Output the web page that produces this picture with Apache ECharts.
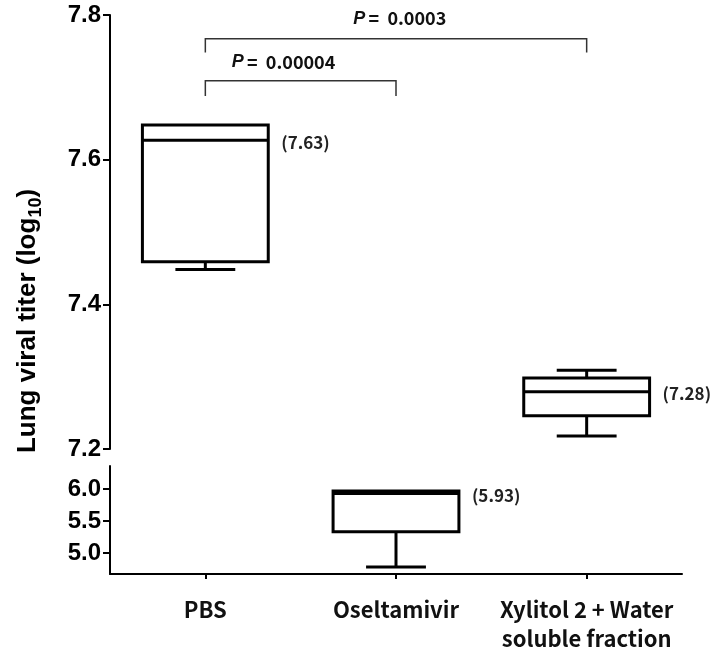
<!DOCTYPE html>
<html>
<head>
<meta charset="utf-8">
<script src="https://cdn.jsdelivr.net/npm/echarts@6/dist/echarts.min.js"></script>
<style>html,body{margin:0;padding:0;background:#fff;}#c{width:716px;height:659px;}</style>
</head>
<body>
<div id="c"></div>
<script>
// ---- data ----
const categories = ['PBS', 'Oseltamivir', 'Xylitol 2 + Water\nsoluble fraction'];
// [categoryIndex, lowerWhisker, Q1, median, Q3, upperWhisker]
const upperBoxes = [
  [0, 7.448, 7.459, 7.627, 7.648, 7.648],
  [2, 7.218, 7.246, 7.279, 7.298, 7.309]
];
const lowerBoxes = [
  [1, 4.78, 5.33, 5.93, 5.97, 5.97]
];
const medianLabels = ['(7.63)', '(5.93)', '(7.28)'];
const upperTicks = [7.2, 7.4, 7.6, 7.8];
const lowerTicks = [5.0, 5.5, 6.0];
// brackets: [fromCategory, toCategory, level, legBottom, labelCenterX, labelY]
const brackets = [
  [0, 1, 7.709, 7.688, 0.41, 7.735],
  [0, 2, 7.767, 7.748, 1.02, 7.795]
];
const pValues = ['0.00004', '0.0003'];

// ---- rendering ----
const chart = echarts.init(document.getElementById('c'));

function renderBox(params, api) {
  const idx = api.value(0);
  const lw = api.value(1), q1 = api.value(2), med = api.value(3), q3 = api.value(4), uw = api.value(5);
  const band = api.size([1, 0])[0];
  const x = api.coord([idx, med])[0];
  const y = v => api.coord([idx, v])[1];
  const bw = band * 0.66, cw = band * 0.314;
  const L = { stroke: '#000', lineWidth: 3 };
  const children = [];
  if (uw > q3) {
    children.push({ type: 'line', shape: { x1: x, y1: y(q3), x2: x, y2: y(uw) }, style: L });
    children.push({ type: 'line', shape: { x1: x - cw / 2, y1: y(uw), x2: x + cw / 2, y2: y(uw) }, style: L });
  }
  children.push({ type: 'line', shape: { x1: x, y1: y(q1), x2: x, y2: y(lw) }, style: L });
  children.push({ type: 'line', shape: { x1: x - cw / 2, y1: y(lw), x2: x + cw / 2, y2: y(lw) }, style: L });
  children.push({ type: 'rect', shape: { x: x - bw / 2, y: y(q3), width: bw, height: y(q1) - y(q3) },
    style: { fill: '#fff', stroke: '#000', lineWidth: 3 } });
  children.push({ type: 'line', shape: { x1: x - bw / 2, y1: y(med), x2: x + bw / 2, y2: y(med) }, style: L });
  children.push({ type: 'text', x: x + bw / 2 + 13, y: y(med) + 2,
    style: { text: medianLabels[idx], fill: '#222', font: 'bold 17px "Noto Sans CJK KR", sans-serif',
      align: 'left', verticalAlign: 'middle' } });
  return { type: 'group', children };
}

function renderBracket(params, api) {
  const a = api.value(0), b = api.value(1), lev = api.value(2), leg = api.value(3), tx = api.value(4), ty = api.value(5);
  const p1 = api.coord([a, leg]), p2 = api.coord([a, lev]), p3 = api.coord([b, lev]), p4 = api.coord([b, leg]);
  const t = api.coord([tx, ty]);
  const band = api.size([1, 0])[0];
  const tX = api.coord([0, ty])[0] + tx * band;
  return { type: 'group', children: [
    { type: 'polyline', shape: { points: [p1, p2, p3, p4] }, style: { stroke: '#333', lineWidth: 1.5, fill: null } },
    { type: 'text', x: tX, y: t[1],
      style: { text: '{i|P} {n|=  ' + pValues[params.dataIndex] + '}', align: 'center', verticalAlign: 'middle',
        rich: {
          i: { fontStyle: 'italic', fontWeight: 'bold', fontSize: 18, fontFamily: 'Liberation Sans, Arial, sans-serif', fill: '#111' },
          n: { fontWeight: 'bold', fontSize: 18, fontFamily: '"Noto Sans CJK KR", sans-serif', fill: '#111' }
        } } }
  ] };
}

const tickLabelStyle = { color: '#000', fontWeight: 'bold', fontSize: 24, fontFamily: 'Liberation Sans, Arial, sans-serif', margin: 9 };

const option = {
  animation: false,
  backgroundColor: '#fff',
  grid: [
    { left: 110, right: 34, top: 15, height: 434, outerBoundsMode: 'none', containLabel: false },
    { left: 110, right: 34, top: 466, height: 108, outerBoundsMode: 'none', containLabel: false }
  ],
  xAxis: [
    { type: 'category', gridIndex: 0, data: categories, boundaryGap: true, show: false },
    { type: 'category', gridIndex: 1, data: categories, boundaryGap: true,
      axisLine: { show: true, lineStyle: { color: '#000', width: 2 } },
      axisTick: { show: true, alignWithLabel: true, length: 5, lineStyle: { color: '#000', width: 2 } },
      axisLabel: { show: true, interval: 0, color: '#111', fontWeight: 'bold', fontSize: 22, lineHeight: 29,
        fontFamily: '"Noto Sans CJK KR", sans-serif', margin: 21 },
      splitLine: { show: false } }
  ],
  yAxis: [
    { type: 'value', gridIndex: 0, min: 7.2, max: 7.8, interval: 0.2,
      axisLine: { show: true, lineStyle: { color: '#000', width: 2 } },
      axisTick: { show: true, length: 7, lineStyle: { color: '#000', width: 2 } },
      axisLabel: Object.assign({ formatter: v => v.toFixed(1) }, tickLabelStyle),
      splitLine: { show: false } },
    { type: 'value', gridIndex: 1, min: 4.67, max: 6.36,
      axisLine: { show: true, lineStyle: { color: '#000', width: 2 } },
      axisTick: { show: true, length: 7, customValues: lowerTicks, lineStyle: { color: '#000', width: 2 } },
      axisLabel: Object.assign({ formatter: v => v.toFixed(1), customValues: lowerTicks }, tickLabelStyle),
      splitLine: { show: false } }
  ],
  graphic: [
    { type: 'text', x: 28, y: 321, rotation: Math.PI / 2,
      style: { text: '{a|Lung viral titer (log}{b|10}{a|)}', align: 'center', verticalAlign: 'middle',
        rich: {
          a: { fontSize: 26, fontWeight: 'bold', fontFamily: 'Liberation Sans, Arial, sans-serif', fill: '#000', lineHeight: 34 },
          b: { fontSize: 18, fontWeight: 'bold', fontFamily: 'Liberation Sans, Arial, sans-serif', fill: '#000', lineHeight: 18, verticalAlign: 'bottom' }
        } } }
  ],
  series: [
    { type: 'custom', xAxisIndex: 0, yAxisIndex: 0, renderItem: renderBox, data: upperBoxes, clip: false, silent: true },
    { type: 'custom', xAxisIndex: 1, yAxisIndex: 1, renderItem: renderBox, data: lowerBoxes, clip: false, silent: true },
    { type: 'custom', xAxisIndex: 0, yAxisIndex: 0, renderItem: renderBracket, data: brackets, clip: false, silent: true }
  ]
};
chart.setOption(option);
</script>
</body>
</html>
